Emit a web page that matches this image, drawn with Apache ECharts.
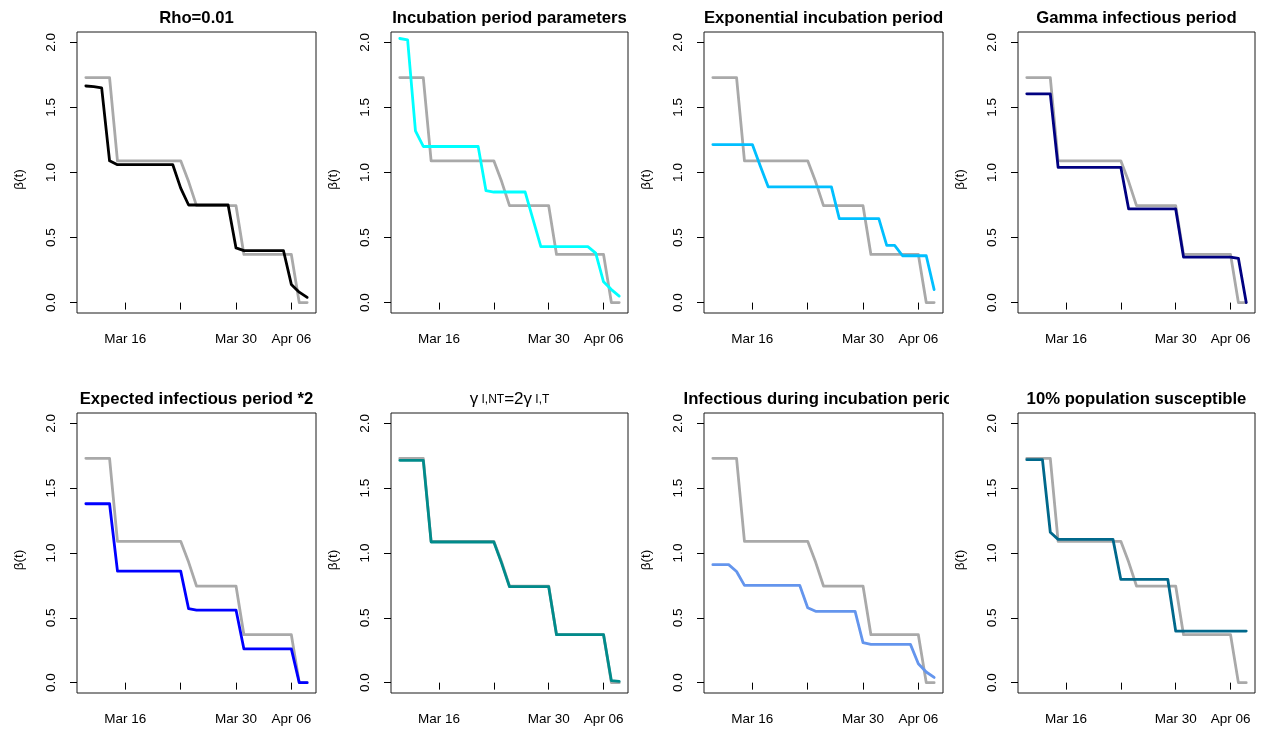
<!DOCTYPE html>
<html>
<head>
<meta charset="utf-8">
<title>beta(t) sensitivity panels</title>
<script src="https://cdn.jsdelivr.net/npm/echarts@6.0.0/dist/echarts.min.js"></script>
<style>
  html, body { margin: 0; padding: 0; background: #fff; }
  #betaChart { width: 1265px; height: 731px; }
</style>
</head>
<body>
<div id="betaChart"></div>
<script>
// days Mar 11 .. Apr 08
const dates = [
  '2020-03-11', '2020-03-12', '2020-03-13', '2020-03-14', '2020-03-15', '2020-03-16',
  '2020-03-17', '2020-03-18', '2020-03-19', '2020-03-20', '2020-03-21', '2020-03-22',
  '2020-03-23', '2020-03-24', '2020-03-25', '2020-03-26', '2020-03-27', '2020-03-28',
  '2020-03-29', '2020-03-30', '2020-03-31', '2020-04-01', '2020-04-02', '2020-04-03',
  '2020-04-04', '2020-04-05', '2020-04-06', '2020-04-07', '2020-04-08'
]
const tickDates = ['2020-03-16', '2020-03-23', '2020-03-30', '2020-04-06']
const labelDates = ['2020-03-16', '2020-03-30', '2020-04-06']
const yTicks = [0, 0.5, 1, 1.5, 2]

// reference fit (grey line in every panel)
const baseline = [1.73, 1.73, 1.73, 1.73, 1.09, 1.09, 1.09, 1.09, 1.09, 1.09, 1.09, 1.09, 1.09, 0.93, 0.745, 0.745, 0.745, 0.745, 0.745, 0.745, 0.37, 0.37, 0.37, 0.37, 0.37, 0.37, 0.37, 0, 0]

const rho = [1.665, 1.66, 1.65, 1.09, 1.06, 1.06, 1.06, 1.06, 1.06, 1.06, 1.06, 1.06, 0.88, 0.75, 0.75, 0.75, 0.75, 0.75, 0.75, 0.42, 0.40, 0.40, 0.40, 0.40, 0.40, 0.40, 0.14, 0.08, 0.04]
const incubationParams = [2.03, 2.02, 1.32, 1.20, 1.20, 1.20, 1.20, 1.20, 1.20, 1.20, 1.20, 0.86, 0.85, 0.85, 0.85, 0.85, 0.85, 0.64, 0.43, 0.43, 0.43, 0.43, 0.43, 0.43, 0.43, 0.38, 0.16, 0.10, 0.05]
const expIncubation = [1.215, 1.215, 1.215, 1.215, 1.215, 1.215, 1.05, 0.89, 0.89, 0.89, 0.89, 0.89, 0.89, 0.89, 0.89, 0.89, 0.645, 0.645, 0.645, 0.645, 0.645, 0.645, 0.44, 0.44, 0.36, 0.36, 0.36, 0.36, 0.10]
const gammaInfectious = [1.605, 1.605, 1.605, 1.605, 1.04, 1.04, 1.04, 1.04, 1.04, 1.04, 1.04, 1.04, 1.04, 0.72, 0.72, 0.72, 0.72, 0.72, 0.72, 0.72, 0.35, 0.35, 0.35, 0.35, 0.35, 0.35, 0.35, 0.34, 0]
const infectiousX2 = [1.38, 1.38, 1.38, 1.38, 0.86, 0.86, 0.86, 0.86, 0.86, 0.86, 0.86, 0.86, 0.86, 0.57, 0.56, 0.56, 0.56, 0.56, 0.56, 0.56, 0.26, 0.26, 0.26, 0.26, 0.26, 0.26, 0.26, 0, 0]
const gammaRatio = [1.715, 1.715, 1.715, 1.715, 1.085, 1.085, 1.085, 1.085, 1.085, 1.085, 1.085, 1.085, 1.085, 0.92, 0.74, 0.74, 0.74, 0.74, 0.74, 0.74, 0.37, 0.37, 0.37, 0.37, 0.37, 0.37, 0.37, 0.015, 0.01]
const infectiousIncubation = [0.91, 0.91, 0.91, 0.857, 0.75, 0.75, 0.75, 0.75, 0.75, 0.75, 0.75, 0.75, 0.578, 0.55, 0.55, 0.55, 0.55, 0.55, 0.55, 0.308, 0.295, 0.295, 0.295, 0.295, 0.295, 0.295, 0.146, 0.082, 0.04]
const susceptible10 = [1.72, 1.72, 1.72, 1.16, 1.105, 1.105, 1.105, 1.105, 1.105, 1.105, 1.105, 1.105, 0.796, 0.796, 0.796, 0.796, 0.796, 0.796, 0.796, 0.398, 0.398, 0.398, 0.398, 0.398, 0.398, 0.398, 0.398, 0.398, 0.398]

const panelTitles = [
  'Rho=0.01', 'Incubation period parameters', 'Exponential incubation period', 'Gamma infectious period',
  'Expected infectious period *2', '{g|γ}{s| I,NT}{g|=2γ}{s| I,T}', 'Infectious during incubation period', '10% population susceptible'
]
const panelValues = [rho, incubationParams, expIncubation, gammaInfectious, infectiousX2, gammaRatio, infectiousIncubation, susceptible10]
const panelColors = ['#000000', '#00FFFF', '#00BFFF', '#000080', '#0000FF', '#008B8B', '#6495ED', '#00688B']

const MONTHS = ['Jan', 'Feb', 'Mar', 'Apr', 'May', 'Jun', 'Jul', 'Aug', 'Sep', 'Oct', 'Nov', 'Dec']
const toTime = (s) => {
  const [y, m, d] = s.split('-').map(Number)
  return new Date(y, m - 1, d).getTime()
}
const fmtDate = (v) => {
  const d = new Date(v)
  return MONTHS[d.getMonth()] + ' ' + String(d.getDate()).padStart(2, '0')
}

const times = dates.map(toTime)
// R style 4% padding on both ends
const xPad = (times[times.length - 1] - times[0]) * 0.04
const xMin = times[0] - xPad
const xMax = times[times.length - 1] + xPad

const colLeft = [77, 391, 704, 1018]
const colWidth = [239, 237, 239, 237]
const rowTop = [32, 413]
const rowHeight = [281, 280]
const FONT = 'Liberation Sans, Arial, Helvetica, sans-serif'

const grids = [], xAxes = [], yAxes = [], titles = [], series = []
for (let i = 0; i < 8; i++) {
  const col = i % 4, row = Math.floor(i / 4)
  grids.push({
    left: colLeft[col], top: rowTop[row], width: colWidth[col], height: rowHeight[row],
    show: true, borderColor: '#1a1a1a', borderWidth: 1, backgroundColor: 'transparent'
  })
  titles.push({
    text: panelTitles[i],
    left: colLeft[col] + colWidth[col] / 2,
    top: row === 0 ? 10 : 391,
    padding: 0,
    textAlign: 'center',
    textStyle: {
      fontFamily: FONT, fontSize: 16.7, fontWeight: i === 5 ? 'normal' : 'bold', color: '#000',
      rich: {
        g: { fontFamily: FONT, fontSize: 17, color: '#000' },
        s: { fontFamily: FONT, fontSize: 12, color: '#000' }
      }
    }
  })
  xAxes.push({
    gridIndex: i, type: 'value', min: xMin, max: xMax,
    axisLine: { show: false },
    splitLine: { show: false },
    axisTick: { show: true, length: 7, lineStyle: { color: '#000', width: 1 }, customValues: tickDates.map(toTime) },
    axisLabel: {
      customValues: labelDates.map(toTime), formatter: fmtDate, margin: 19,
      fontFamily: FONT, fontSize: 13.5, color: '#000'
    }
  })
  yAxes.push({
    gridIndex: i, type: 'value', min: -0.08, max: 2.08,
    name: 'β(t)', nameLocation: 'middle', nameRotate: 90, nameGap: 51,
    nameTextStyle: { fontFamily: FONT, fontSize: 13.5, color: '#000', padding: [0, 14, 0, 0] },
    axisLine: { show: false },
    splitLine: { show: false },
    axisTick: { show: true, length: 7, lineStyle: { color: '#000', width: 1 }, customValues: yTicks },
    axisLabel: {
      customValues: yTicks, rotate: 90, margin: 19,
      formatter: (v) => v.toFixed(1),
      fontFamily: FONT, fontSize: 13.5, color: '#000'
    }
  })
  series.push({
    type: 'line', xAxisIndex: i, yAxisIndex: i, showSymbol: false, symbol: 'none', silent: true,
    data: times.map((t, k) => [t, baseline[k]]),
    lineStyle: { color: '#A9A9A9', width: 2.8, cap: 'round', join: 'round' }
  })
  series.push({
    type: 'line', xAxisIndex: i, yAxisIndex: i, showSymbol: false, symbol: 'none', silent: true,
    data: times.map((t, k) => [t, panelValues[i][k]]),
    lineStyle: { color: panelColors[i], width: 2.8, cap: 'round', join: 'round' }
  })
}

const option = {
  animation: false,
  backgroundColor: '#fff',
  title: titles,
  grid: grids,
  xAxis: xAxes,
  yAxis: yAxes,
  series: series,
  // the long title of panel 7 is cut off at its figure region edge
  graphic: [{
    type: 'rect', left: 949, top: 380, z: 100,
    shape: { width: 70, height: 30 },
    style: { fill: '#fff' }
  }]
}

const chart = echarts.init(document.getElementById('betaChart'))
chart.setOption(option)
window.onresize = function () {
  chart.resize()
}
</script>
</body>
</html>
